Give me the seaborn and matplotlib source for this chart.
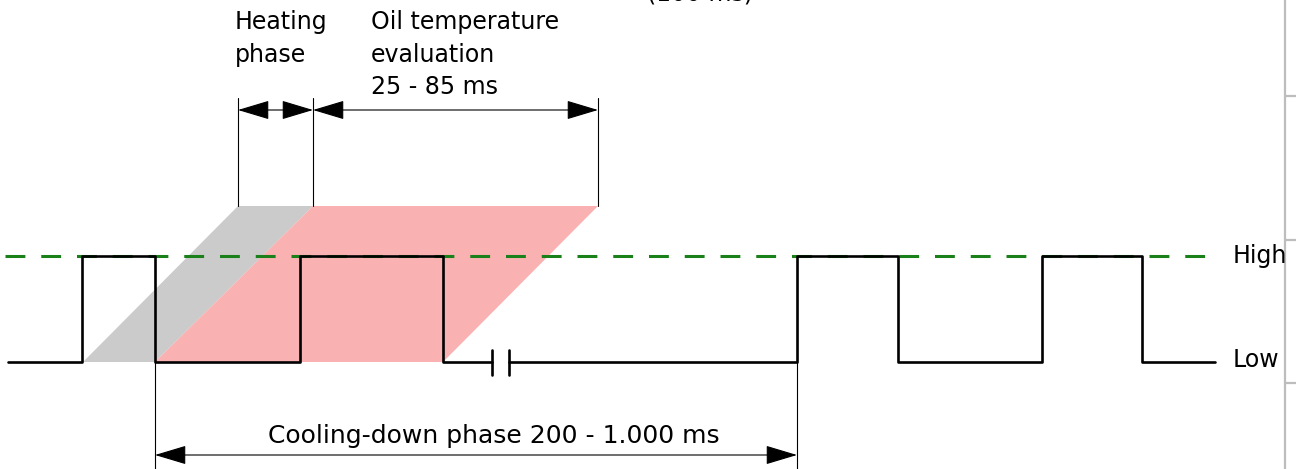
"""
Oil level sensor signal timing diagram (heating / evaluation / cooling-down)
"""
import numpy as np
import pandas as pd
import matplotlib
import matplotlib.pyplot as plt
import seaborn as sns

sns.set_theme(style='white')
plt.rcParams['font.family'] = ['DejaVu Sans']
plt.rcParams['text.color'] = 'black'

# ── diagram data (pixel frame of the original drawing) ──────────────
low_y, high_y = 362, 256
# signal before the time break
sig1_x = [8, 82, 155, 300, 443, 492]
sig1_lv = ['L', 'H', 'L', 'H', 'L', 'L']
# signal after the time break
sig2_x = [509, 797, 898, 1042, 1142, 1215]
sig2_lv = ['L', 'H', 'L', 'H', 'L', 'L']
break_x = [492, 509]

# heating / evaluation windows (bottom start, bottom end, top start, top end)
heat_band = [83, 155, 238, 313]
eval_band = [155, 443, 313, 598]
band_top = 206

dim_top_x = [238, 313, 598]
cool_x = [155, 797]

labels_top = ['Heating\nphase', 'Oil temperature\nevaluation\n25 - 85 ms', '(100 ms)']
cool_label = 'Cooling-down phase 200 - 1.000 ms'

frame_ticks = [96, 240, 383]

level_map = {'L': low_y, 'H': high_y}

fig = plt.figure(figsize=(12.96, 4.69), dpi=100)
ax = fig.add_axes([0, 0, 1, 1])

# ── shaded windows ─────────────────────────────────────────────────
b0, b1, t0, t1 = heat_band
ax.fill([b0, b1, t1, t0], [low_y, low_y, band_top, band_top], color='#cbcbcb', lw=0, zorder=1)
b0, b1, t0, t1 = eval_band
ax.fill([b0, b1, t1, t0], [low_y, low_y, band_top, band_top], color='#f9b1b1', lw=0, zorder=2)

# ── high threshold line ────────────────────────────────────────────
ax.plot([5, 1220], [high_y, high_y], color='#1a801a', lw=2.2,
        dashes=(6.5, 5.2), zorder=3)

# ── signal ─────────────────────────────────────────────────────────
for xs, lv in [(sig1_x, sig1_lv), (sig2_x, sig2_lv)]:
    df = pd.DataFrame({'x': xs, 'y': [level_map[v] for v in lv]})
    sns.lineplot(data=df, x='x', y='y', drawstyle='steps-post', sort=False,
                 color='black', lw=1.9, ax=ax, zorder=5)
for bx in break_x:
    ax.plot([bx, bx], [low_y - 12, low_y + 13], color='black', lw=1.9, zorder=5)

# ── dimension lines ────────────────────────────────────────────────
for x in dim_top_x:
    ax.plot([x, x], [98, band_top], color='black', lw=0.8, zorder=4)
for x in cool_x:
    ax.plot([x, x], [low_y, 469], color='black', lw=0.8, zorder=4)

arrow_kw = dict(arrowstyle='<|-|>,head_length=0.4,head_width=0.12',
                mutation_scale=50, lw=0.8, color='black', shrinkA=0, shrinkB=0)
ax.annotate('', xy=(dim_top_x[1], 110), xytext=(dim_top_x[0], 110), arrowprops=arrow_kw)
ax.annotate('', xy=(dim_top_x[2], 110), xytext=(dim_top_x[1], 110), arrowprops=arrow_kw)
ax.annotate('', xy=(cool_x[1], 455), xytext=(cool_x[0], 455), arrowprops=arrow_kw)

# ── texts ──────────────────────────────────────────────────────────
ax.text(235, 10, labels_top[0], fontsize=17, va='top', ha='left', linespacing=1.45)
ax.text(371, 10, labels_top[1], fontsize=17, va='top', ha='left', linespacing=1.45)
ax.text(700, 5, labels_top[2], fontsize=17, va='bottom', ha='center')
ax.text(1233, high_y, 'High', fontsize=17, va='center', ha='left')
ax.text(1233, low_y - 2, 'Low', fontsize=17, va='center', ha='left')
ax.text(494, 436, cool_label, fontsize=18, va='center', ha='center',
        family=['Liberation Sans Narrow', 'DejaVu Sans'])

# ── page frame at the right edge ───────────────────────────────────
ax.plot([1285, 1285], [0, 469], color='#bdbdbd', lw=1.6)
for ty in frame_ticks:
    ax.plot([1285, 1296], [ty, ty], color='#bdbdbd', lw=1.6)

ax.set_xlim(0, 1296)
ax.set_ylim(469, 0)
ax.axis('off')

fig.savefig('out.png', dpi=100)
